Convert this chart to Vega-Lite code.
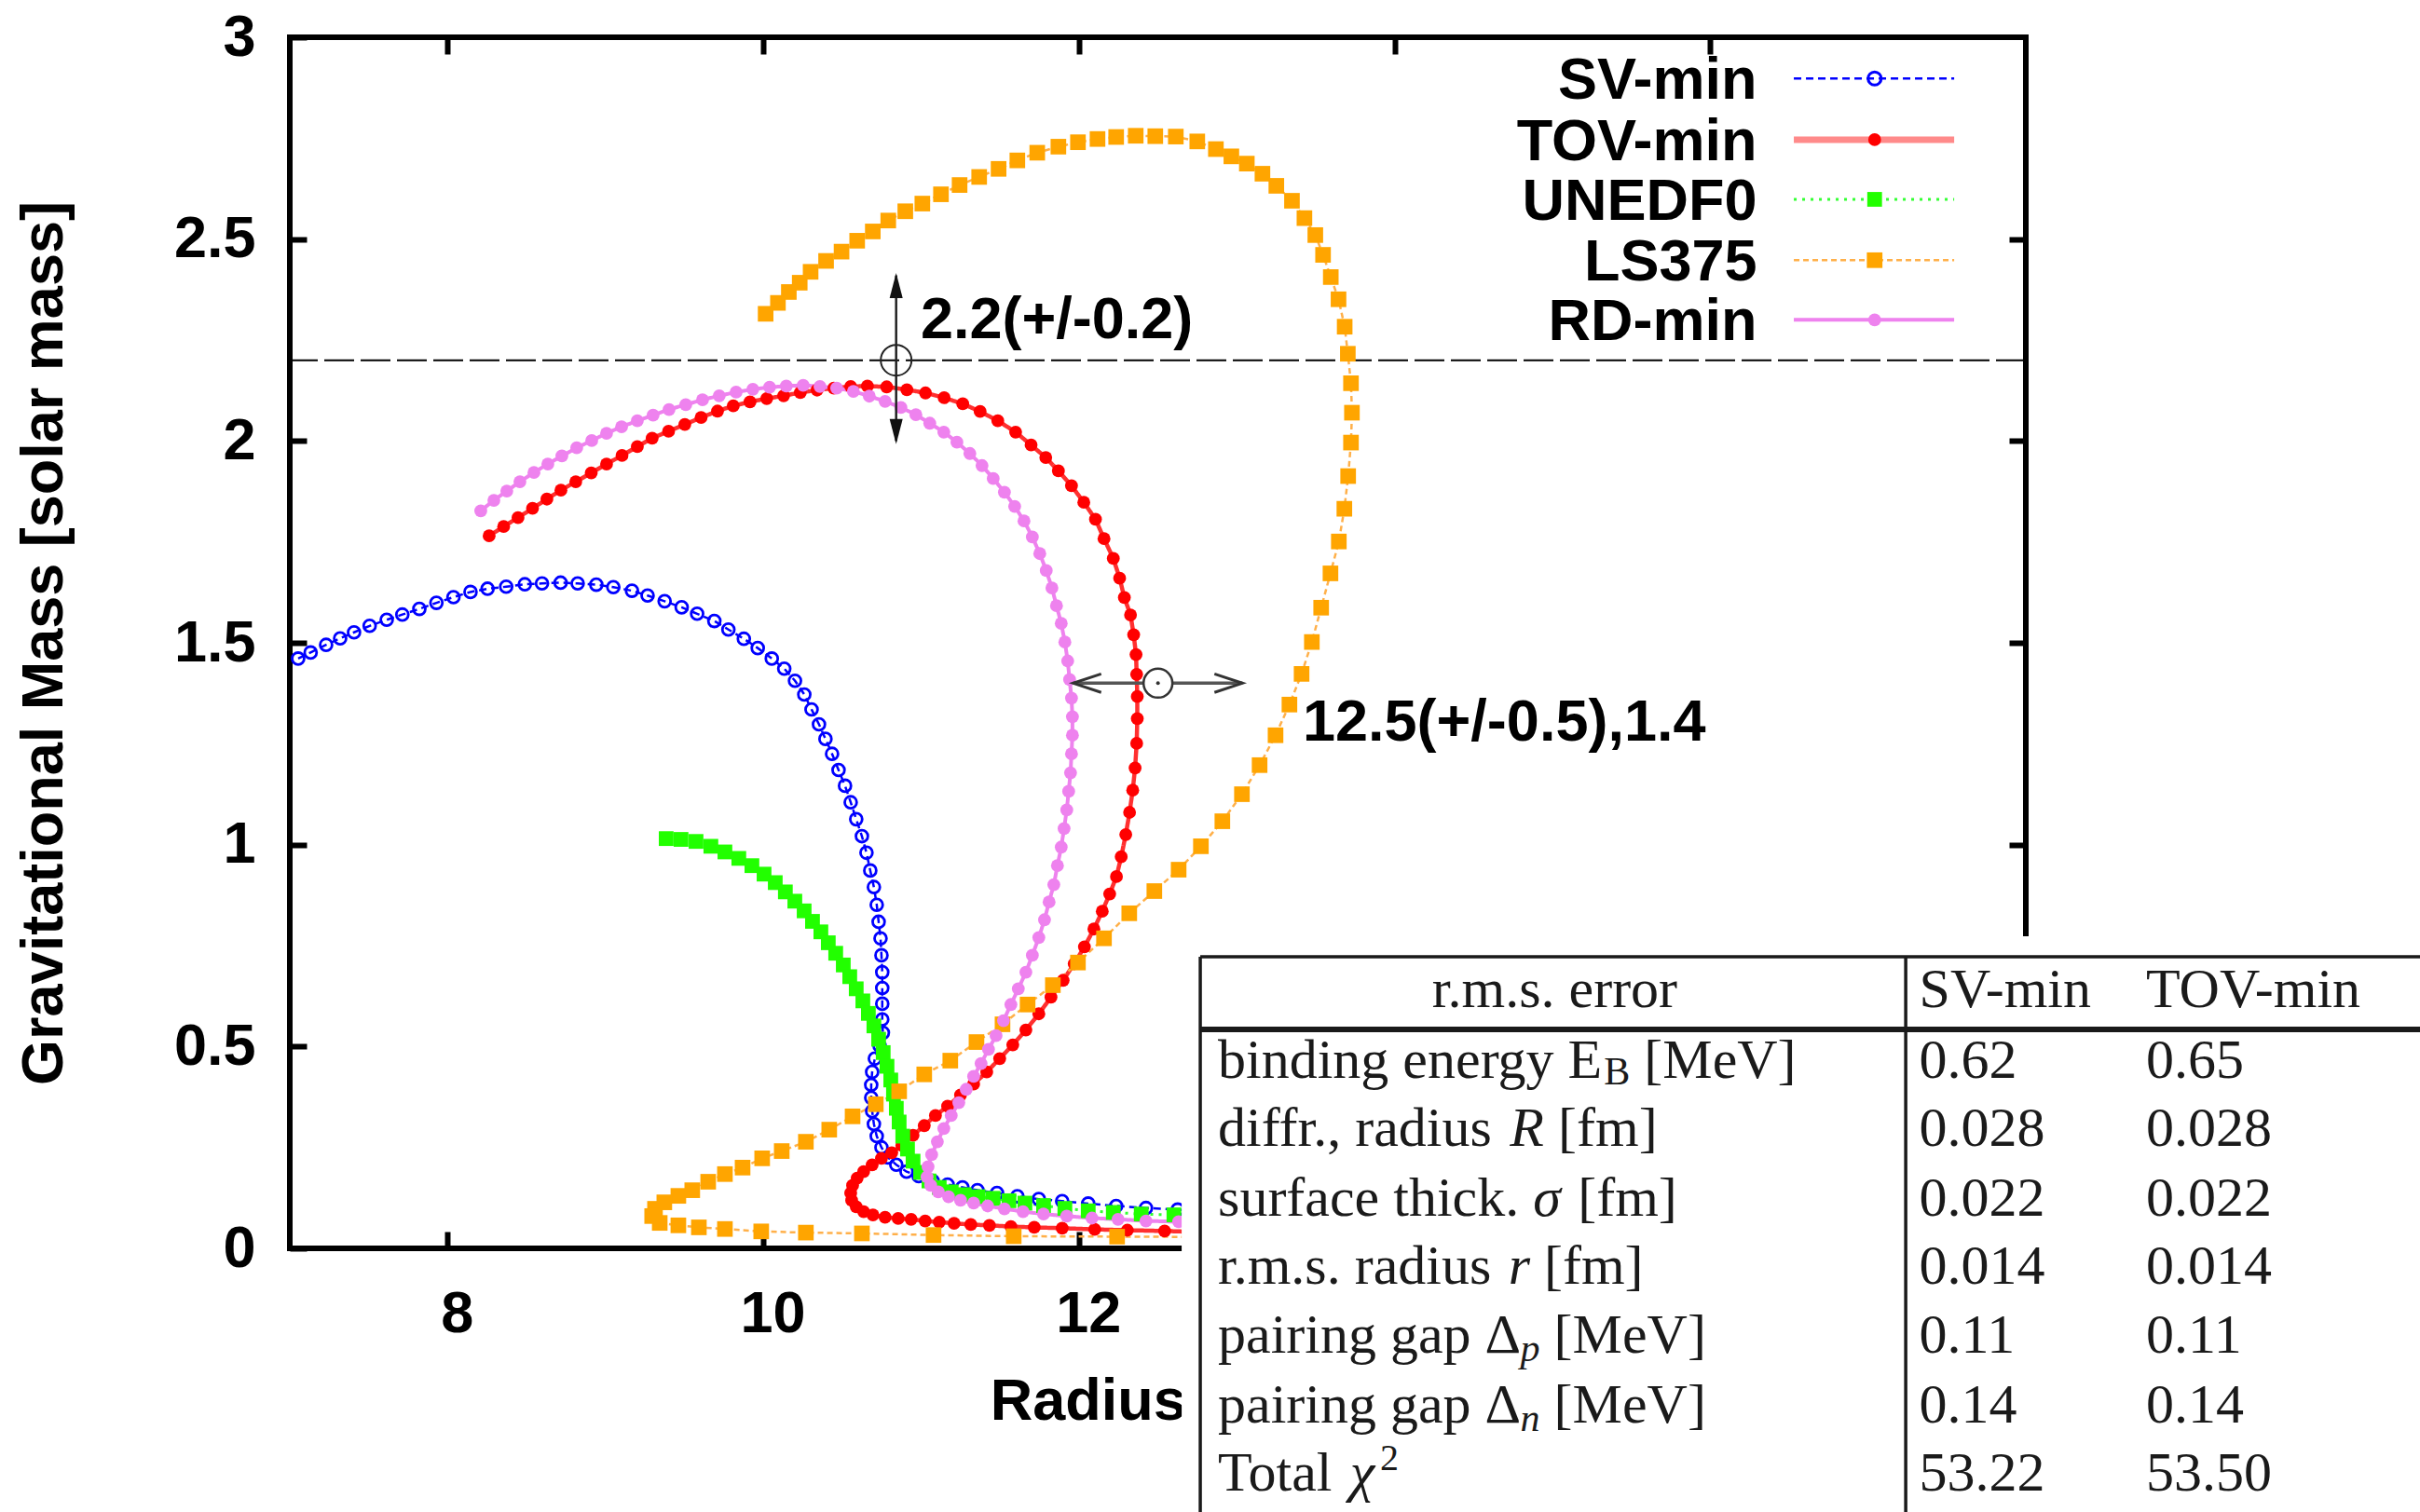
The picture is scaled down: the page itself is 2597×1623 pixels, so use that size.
{
  "$schema": "https://vega.github.io/schema/vega-lite/v6.json",
  "width": 1863,
  "height": 1300,
  "autosize": {"type": "none"},
  "padding": {"left": 311, "top": 40, "right": 423, "bottom": 283},
  "background": "white",
  "config": {
    "view": {"stroke": "black", "strokeWidth": 6},
    "font": "Liberation Sans",
    "axis": {
      "grid": false, "domain": false,
      "labelFont": "Liberation Sans", "labelFontSize": 63, "labelFontWeight": "bold", "labelColor": "black",
      "titleFont": "Liberation Sans", "titleFontSize": 63, "titleFontWeight": "bold", "titleColor": "black",
      "tickColor": "black", "tickWidth": 6, "tickSize": -18
    }
  },
  "resolve": {"axis": {"x": "independent", "y": "independent"}},
  "datasets": {
    "curves": [
      {"s":"SV-min","R":7.053,"M":1.461},{"s":"SV-min","R":7.132,"M":1.476},{"s":"SV-min","R":7.230,"M":1.495},{"s":"SV-min","R":7.319,"M":1.511},{"s":"SV-min","R":7.407,"M":1.526},{"s":"SV-min","R":7.506,"M":1.542},{"s":"SV-min","R":7.614,"M":1.557},{"s":"SV-min","R":7.713,"M":1.570},{"s":"SV-min","R":7.821,"M":1.584},{"s":"SV-min","R":7.929,"M":1.599},{"s":"SV-min","R":8.037,"M":1.613},{"s":"SV-min","R":8.145,"M":1.626},{"s":"SV-min","R":8.253,"M":1.634},{"s":"SV-min","R":8.371,"M":1.639},{"s":"SV-min","R":8.489,"M":1.645},{"s":"SV-min","R":8.598,"M":1.647},{"s":"SV-min","R":8.716,"M":1.649},{"s":"SV-min","R":8.824,"M":1.647},{"s":"SV-min","R":8.942,"M":1.644},{"s":"SV-min","R":9.050,"M":1.638},{"s":"SV-min","R":9.168,"M":1.629},{"s":"SV-min","R":9.267,"M":1.617},{"s":"SV-min","R":9.375,"M":1.603},{"s":"SV-min","R":9.483,"M":1.588},{"s":"SV-min","R":9.581,"M":1.572},{"s":"SV-min","R":9.690,"M":1.554},{"s":"SV-min","R":9.779,"M":1.533},{"s":"SV-min","R":9.877,"M":1.510},{"s":"SV-min","R":9.965,"M":1.487},{"s":"SV-min","R":10.054,"M":1.461},{"s":"SV-min","R":10.133,"M":1.436},{"s":"SV-min","R":10.201,"M":1.406},{"s":"SV-min","R":10.260,"M":1.372},{"s":"SV-min","R":10.306,"M":1.335},{"s":"SV-min","R":10.353,"M":1.298},{"s":"SV-min","R":10.394,"M":1.262},{"s":"SV-min","R":10.436,"M":1.225},{"s":"SV-min","R":10.477,"M":1.185},{"s":"SV-min","R":10.518,"M":1.146},{"s":"SV-min","R":10.554,"M":1.105},{"s":"SV-min","R":10.589,"M":1.063},{"s":"SV-min","R":10.625,"M":1.021},{"s":"SV-min","R":10.654,"M":0.980},{"s":"SV-min","R":10.678,"M":0.936},{"s":"SV-min","R":10.701,"M":0.895},{"s":"SV-min","R":10.719,"M":0.851},{"s":"SV-min","R":10.731,"M":0.809},{"s":"SV-min","R":10.743,"M":0.768},{"s":"SV-min","R":10.749,"M":0.726},{"s":"SV-min","R":10.754,"M":0.684},{"s":"SV-min","R":10.754,"M":0.645},{"s":"SV-min","R":10.754,"M":0.606},{"s":"SV-min","R":10.754,"M":0.567},{"s":"SV-min","R":10.758,"M":0.534},{"s":"SV-min","R":10.737,"M":0.502},{"s":"SV-min","R":10.707,"M":0.470},{"s":"SV-min","R":10.690,"M":0.437},{"s":"SV-min","R":10.684,"M":0.405},{"s":"SV-min","R":10.684,"M":0.373},{"s":"SV-min","R":10.690,"M":0.340},{"s":"SV-min","R":10.701,"M":0.308},{"s":"SV-min","R":10.719,"M":0.278},{"s":"SV-min","R":10.749,"M":0.250},{"s":"SV-min","R":10.790,"M":0.225},{"s":"SV-min","R":10.843,"M":0.207},{"s":"SV-min","R":10.908,"M":0.190},{"s":"SV-min","R":10.985,"M":0.179},{"s":"SV-min","R":11.073,"M":0.167},{"s":"SV-min","R":11.168,"M":0.158},{"s":"SV-min","R":11.262,"M":0.151},{"s":"SV-min","R":11.357,"M":0.144},{"s":"SV-min","R":11.481,"M":0.137},{"s":"SV-min","R":11.610,"M":0.129},{"s":"SV-min","R":11.746,"M":0.122},{"s":"SV-min","R":11.894,"M":0.117},{"s":"SV-min","R":12.059,"M":0.111},{"s":"SV-min","R":12.236,"M":0.105},{"s":"SV-min","R":12.425,"M":0.100},{"s":"SV-min","R":12.626,"M":0.096},{"s":"SV-min","R":12.838,"M":0.091},{"s":"SV-min","R":13.074,"M":0.087},{"s":"SV-min","R":13.340,"M":0.082},{"s":"SV-min","R":13.635,"M":0.077},
      {"s":"TOV-min","R":8.263,"M":1.765},{"s":"TOV-min","R":8.355,"M":1.788},{"s":"TOV-min","R":8.446,"M":1.810},{"s":"TOV-min","R":8.538,"M":1.833},{"s":"TOV-min","R":8.629,"M":1.856},{"s":"TOV-min","R":8.718,"M":1.878},{"s":"TOV-min","R":8.812,"M":1.899},{"s":"TOV-min","R":8.910,"M":1.921},{"s":"TOV-min","R":9.007,"M":1.943},{"s":"TOV-min","R":9.105,"M":1.964},{"s":"TOV-min","R":9.202,"M":1.986},{"s":"TOV-min","R":9.296,"M":2.007},{"s":"TOV-min","R":9.400,"M":2.024},{"s":"TOV-min","R":9.503,"M":2.041},{"s":"TOV-min","R":9.606,"M":2.058},{"s":"TOV-min","R":9.710,"M":2.074},{"s":"TOV-min","R":9.810,"M":2.087},{"s":"TOV-min","R":9.916,"M":2.097},{"s":"TOV-min","R":10.022,"M":2.105},{"s":"TOV-min","R":10.129,"M":2.112},{"s":"TOV-min","R":10.235,"M":2.120},{"s":"TOV-min","R":10.341,"M":2.126},{"s":"TOV-min","R":10.447,"M":2.131},{"s":"TOV-min","R":10.554,"M":2.135},{"s":"TOV-min","R":10.660,"M":2.136},{"s":"TOV-min","R":10.782,"M":2.134},{"s":"TOV-min","R":10.910,"M":2.127},{"s":"TOV-min","R":11.028,"M":2.119},{"s":"TOV-min","R":11.146,"M":2.107},{"s":"TOV-min","R":11.264,"M":2.092},{"s":"TOV-min","R":11.374,"M":2.073},{"s":"TOV-min","R":11.486,"M":2.050},{"s":"TOV-min","R":11.599,"M":2.022},{"s":"TOV-min","R":11.697,"M":1.990},{"s":"TOV-min","R":11.790,"M":1.959},{"s":"TOV-min","R":11.870,"M":1.926},{"s":"TOV-min","R":11.953,"M":1.889},{"s":"TOV-min","R":12.031,"M":1.848},{"s":"TOV-min","R":12.105,"M":1.806},{"s":"TOV-min","R":12.159,"M":1.758},{"s":"TOV-min","R":12.218,"M":1.709},{"s":"TOV-min","R":12.258,"M":1.660},{"s":"TOV-min","R":12.288,"M":1.612},{"s":"TOV-min","R":12.327,"M":1.569},{"s":"TOV-min","R":12.347,"M":1.520},{"s":"TOV-min","R":12.362,"M":1.471},{"s":"TOV-min","R":12.366,"M":1.422},{"s":"TOV-min","R":12.370,"M":1.367},{"s":"TOV-min","R":12.370,"M":1.312},{"s":"TOV-min","R":12.366,"M":1.251},{"s":"TOV-min","R":12.356,"M":1.190},{"s":"TOV-min","R":12.341,"M":1.135},{"s":"TOV-min","R":12.321,"M":1.080},{"s":"TOV-min","R":12.297,"M":1.025},{"s":"TOV-min","R":12.268,"M":0.970},{"s":"TOV-min","R":12.238,"M":0.921},{"s":"TOV-min","R":12.195,"M":0.878},{"s":"TOV-min","R":12.148,"M":0.835},{"s":"TOV-min","R":12.095,"M":0.791},{"s":"TOV-min","R":12.035,"M":0.747},{"s":"TOV-min","R":11.970,"M":0.705},{"s":"TOV-min","R":11.900,"M":0.664},{"s":"TOV-min","R":11.823,"M":0.622},{"s":"TOV-min","R":11.746,"M":0.581},{"s":"TOV-min","R":11.664,"M":0.541},{"s":"TOV-min","R":11.581,"M":0.504},{"s":"TOV-min","R":11.498,"M":0.470},{"s":"TOV-min","R":11.416,"M":0.437},{"s":"TOV-min","R":11.333,"M":0.407},{"s":"TOV-min","R":11.250,"M":0.380},{"s":"TOV-min","R":11.168,"M":0.352},{"s":"TOV-min","R":11.091,"M":0.329},{"s":"TOV-min","R":11.020,"M":0.304},{"s":"TOV-min","R":10.949,"M":0.280},{"s":"TOV-min","R":10.878,"M":0.255},{"s":"TOV-min","R":10.814,"M":0.237},{"s":"TOV-min","R":10.749,"M":0.223},{"s":"TOV-min","R":10.690,"M":0.207},{"s":"TOV-min","R":10.636,"M":0.190},{"s":"TOV-min","R":10.595,"M":0.174},{"s":"TOV-min","R":10.566,"M":0.156},{"s":"TOV-min","R":10.554,"M":0.137},{"s":"TOV-min","R":10.560,"M":0.119},{"s":"TOV-min","R":10.589,"M":0.103},{"s":"TOV-min","R":10.636,"M":0.091},{"s":"TOV-min","R":10.695,"M":0.083},{"s":"TOV-min","R":10.772,"M":0.077},{"s":"TOV-min","R":10.855,"M":0.074},{"s":"TOV-min","R":10.937,"M":0.072},{"s":"TOV-min","R":11.026,"M":0.068},{"s":"TOV-min","R":11.115,"M":0.065},{"s":"TOV-min","R":11.209,"M":0.062},{"s":"TOV-min","R":11.315,"M":0.059},{"s":"TOV-min","R":11.433,"M":0.057},{"s":"TOV-min","R":11.569,"M":0.054},{"s":"TOV-min","R":11.717,"M":0.052},{"s":"TOV-min","R":11.894,"M":0.050},{"s":"TOV-min","R":12.100,"M":0.047},{"s":"TOV-min","R":12.307,"M":0.045},{"s":"TOV-min","R":12.543,"M":0.043},{"s":"TOV-min","R":12.809,"M":0.040},{"s":"TOV-min","R":13.104,"M":0.038},{"s":"TOV-min","R":13.429,"M":0.036},
      {"s":"UNEDF0","R":9.385,"M":1.015},{"s":"UNEDF0","R":9.479,"M":1.013},{"s":"UNEDF0","R":9.574,"M":1.008},{"s":"UNEDF0","R":9.668,"M":0.996},{"s":"UNEDF0","R":9.757,"M":0.982},{"s":"UNEDF0","R":9.845,"M":0.966},{"s":"UNEDF0","R":9.928,"M":0.948},{"s":"UNEDF0","R":10.005,"M":0.927},{"s":"UNEDF0","R":10.076,"M":0.906},{"s":"UNEDF0","R":10.140,"M":0.883},{"s":"UNEDF0","R":10.200,"M":0.860},{"s":"UNEDF0","R":10.259,"M":0.836},{"s":"UNEDF0","R":10.312,"M":0.810},{"s":"UNEDF0","R":10.365,"M":0.784},{"s":"UNEDF0","R":10.412,"M":0.757},{"s":"UNEDF0","R":10.459,"M":0.731},{"s":"UNEDF0","R":10.507,"M":0.702},{"s":"UNEDF0","R":10.548,"M":0.673},{"s":"UNEDF0","R":10.589,"M":0.643},{"s":"UNEDF0","R":10.631,"M":0.613},{"s":"UNEDF0","R":10.666,"M":0.582},{"s":"UNEDF0","R":10.701,"M":0.551},{"s":"UNEDF0","R":10.731,"M":0.518},{"s":"UNEDF0","R":10.760,"M":0.485},{"s":"UNEDF0","R":10.784,"M":0.451},{"s":"UNEDF0","R":10.808,"M":0.417},{"s":"UNEDF0","R":10.825,"M":0.382},{"s":"UNEDF0","R":10.843,"M":0.347},{"s":"UNEDF0","R":10.861,"M":0.313},{"s":"UNEDF0","R":10.884,"M":0.278},{"s":"UNEDF0","R":10.914,"M":0.246},{"s":"UNEDF0","R":10.949,"M":0.216},{"s":"UNEDF0","R":10.997,"M":0.188},{"s":"UNEDF0","R":11.050,"M":0.167},{"s":"UNEDF0","R":11.115,"M":0.151},{"s":"UNEDF0","R":11.191,"M":0.140},{"s":"UNEDF0","R":11.274,"M":0.133},{"s":"UNEDF0","R":11.362,"M":0.128},{"s":"UNEDF0","R":11.457,"M":0.124},{"s":"UNEDF0","R":11.557,"M":0.118},{"s":"UNEDF0","R":11.658,"M":0.112},{"s":"UNEDF0","R":11.776,"M":0.106},{"s":"UNEDF0","R":11.911,"M":0.099},{"s":"UNEDF0","R":12.059,"M":0.093},{"s":"UNEDF0","R":12.218,"M":0.089},{"s":"UNEDF0","R":12.395,"M":0.085},{"s":"UNEDF0","R":12.602,"M":0.083},{"s":"UNEDF0","R":12.838,"M":0.081},{"s":"UNEDF0","R":13.104,"M":0.078},{"s":"UNEDF0","R":13.429,"M":0.076},
      {"s":"LS375","R":10.015,"M":2.315},{"s":"LS375","R":10.093,"M":2.342},{"s":"LS375","R":10.162,"M":2.369},{"s":"LS375","R":10.231,"M":2.392},{"s":"LS375","R":10.300,"M":2.419},{"s":"LS375","R":10.398,"M":2.446},{"s":"LS375","R":10.496,"M":2.469},{"s":"LS375","R":10.595,"M":2.496},{"s":"LS375","R":10.694,"M":2.519},{"s":"LS375","R":10.792,"M":2.546},{"s":"LS375","R":10.900,"M":2.569},{"s":"LS375","R":11.008,"M":2.588},{"s":"LS375","R":11.126,"M":2.611},{"s":"LS375","R":11.244,"M":2.634},{"s":"LS375","R":11.368,"M":2.654},{"s":"LS375","R":11.491,"M":2.674},{"s":"LS375","R":11.610,"M":2.695},{"s":"LS375","R":11.736,"M":2.714},{"s":"LS375","R":11.870,"M":2.729},{"s":"LS375","R":11.994,"M":2.740},{"s":"LS375","R":12.118,"M":2.748},{"s":"LS375","R":12.236,"M":2.753},{"s":"LS375","R":12.360,"M":2.756},{"s":"LS375","R":12.484,"M":2.755},{"s":"LS375","R":12.614,"M":2.754},{"s":"LS375","R":12.750,"M":2.742},{"s":"LS375","R":12.868,"M":2.723},{"s":"LS375","R":12.966,"M":2.705},{"s":"LS375","R":13.064,"M":2.687},{"s":"LS375","R":13.163,"M":2.662},{"s":"LS375","R":13.251,"M":2.632},{"s":"LS375","R":13.350,"M":2.595},{"s":"LS375","R":13.429,"M":2.552},{"s":"LS375","R":13.498,"M":2.510},{"s":"LS375","R":13.547,"M":2.461},{"s":"LS375","R":13.596,"M":2.406},{"s":"LS375","R":13.645,"M":2.351},{"s":"LS375","R":13.684,"M":2.283},{"s":"LS375","R":13.704,"M":2.216},{"s":"LS375","R":13.724,"M":2.143},{"s":"LS375","R":13.730,"M":2.070},{"s":"LS375","R":13.724,"M":1.996},{"s":"LS375","R":13.706,"M":1.913},{"s":"LS375","R":13.682,"M":1.832},{"s":"LS375","R":13.647,"M":1.751},{"s":"LS375","R":13.594,"M":1.672},{"s":"LS375","R":13.535,"M":1.587},{"s":"LS375","R":13.476,"M":1.502},{"s":"LS375","R":13.411,"M":1.423},{"s":"LS375","R":13.334,"M":1.347},{"s":"LS375","R":13.246,"M":1.271},{"s":"LS375","R":13.145,"M":1.197},{"s":"LS375","R":13.033,"M":1.125},{"s":"LS375","R":12.909,"M":1.058},{"s":"LS375","R":12.773,"M":0.996},{"s":"LS375","R":12.632,"M":0.938},{"s":"LS375","R":12.478,"M":0.885},{"s":"LS375","R":12.319,"M":0.830},{"s":"LS375","R":12.159,"M":0.768},{"s":"LS375","R":11.994,"M":0.708},{"s":"LS375","R":11.835,"M":0.652},{"s":"LS375","R":11.675,"M":0.604},{"s":"LS375","R":11.516,"M":0.555},{"s":"LS375","R":11.351,"M":0.511},{"s":"LS375","R":11.185,"M":0.465},{"s":"LS375","R":11.020,"M":0.431},{"s":"LS375","R":10.861,"M":0.389},{"s":"LS375","R":10.713,"M":0.357},{"s":"LS375","R":10.566,"M":0.327},{"s":"LS375","R":10.418,"M":0.294},{"s":"LS375","R":10.270,"M":0.264},{"s":"LS375","R":10.117,"M":0.241},{"s":"LS375","R":9.993,"M":0.223},{"s":"LS375","R":9.869,"M":0.200},{"s":"LS375","R":9.757,"M":0.184},{"s":"LS375","R":9.651,"M":0.165},{"s":"LS375","R":9.550,"M":0.144},{"s":"LS375","R":9.462,"M":0.130},{"s":"LS375","R":9.373,"M":0.114},{"s":"LS375","R":9.314,"M":0.098},{"s":"LS375","R":9.296,"M":0.080},{"s":"LS375","R":9.344,"M":0.063},{"s":"LS375","R":9.462,"M":0.057},{"s":"LS375","R":9.592,"M":0.052},{"s":"LS375","R":9.757,"M":0.048},{"s":"LS375","R":9.987,"M":0.042},{"s":"LS375","R":10.270,"M":0.039},{"s":"LS375","R":10.625,"M":0.037},{"s":"LS375","R":11.079,"M":0.033},{"s":"LS375","R":11.587,"M":0.030},{"s":"LS375","R":12.242,"M":0.029},{"s":"LS375","R":13.015,"M":0.028},{"s":"LS375","R":13.901,"M":0.027},
      {"s":"RD-min","R":8.210,"M":1.827},{"s":"RD-min","R":8.293,"M":1.853},{"s":"RD-min","R":8.375,"M":1.876},{"s":"RD-min","R":8.458,"M":1.899},{"s":"RD-min","R":8.547,"M":1.922},{"s":"RD-min","R":8.635,"M":1.943},{"s":"RD-min","R":8.724,"M":1.963},{"s":"RD-min","R":8.818,"M":1.983},{"s":"RD-min","R":8.913,"M":2.001},{"s":"RD-min","R":9.007,"M":2.019},{"s":"RD-min","R":9.102,"M":2.035},{"s":"RD-min","R":9.202,"M":2.050},{"s":"RD-min","R":9.302,"M":2.064},{"s":"RD-min","R":9.403,"M":2.078},{"s":"RD-min","R":9.509,"M":2.090},{"s":"RD-min","R":9.615,"M":2.102},{"s":"RD-min","R":9.721,"M":2.112},{"s":"RD-min","R":9.828,"M":2.121},{"s":"RD-min","R":9.934,"M":2.128},{"s":"RD-min","R":10.040,"M":2.133},{"s":"RD-min","R":10.146,"M":2.136},{"s":"RD-min","R":10.253,"M":2.138},{"s":"RD-min","R":10.359,"M":2.135},{"s":"RD-min","R":10.465,"M":2.131},{"s":"RD-min","R":10.571,"M":2.123},{"s":"RD-min","R":10.672,"M":2.111},{"s":"RD-min","R":10.772,"M":2.098},{"s":"RD-min","R":10.872,"M":2.083},{"s":"RD-min","R":10.967,"M":2.065},{"s":"RD-min","R":11.055,"M":2.044},{"s":"RD-min","R":11.144,"M":2.022},{"s":"RD-min","R":11.227,"M":1.997},{"s":"RD-min","R":11.309,"M":1.969},{"s":"RD-min","R":11.386,"M":1.939},{"s":"RD-min","R":11.457,"M":1.907},{"s":"RD-min","R":11.528,"M":1.873},{"s":"RD-min","R":11.593,"M":1.838},{"s":"RD-min","R":11.652,"M":1.802},{"s":"RD-min","R":11.705,"M":1.762},{"s":"RD-min","R":11.752,"M":1.721},{"s":"RD-min","R":11.793,"M":1.679},{"s":"RD-min","R":11.829,"M":1.636},{"s":"RD-min","R":11.858,"M":1.592},{"s":"RD-min","R":11.888,"M":1.548},{"s":"RD-min","R":11.911,"M":1.502},{"s":"RD-min","R":11.929,"M":1.455},{"s":"RD-min","R":11.941,"M":1.409},{"s":"RD-min","R":11.953,"M":1.363},{"s":"RD-min","R":11.959,"M":1.317},{"s":"RD-min","R":11.959,"M":1.271},{"s":"RD-min","R":11.953,"M":1.225},{"s":"RD-min","R":11.947,"M":1.178},{"s":"RD-min","R":11.935,"M":1.132},{"s":"RD-min","R":11.923,"M":1.086},{"s":"RD-min","R":11.906,"M":1.040},{"s":"RD-min","R":11.888,"M":0.994},{"s":"RD-min","R":11.864,"M":0.948},{"s":"RD-min","R":11.841,"M":0.901},{"s":"RD-min","R":11.811,"M":0.858},{"s":"RD-min","R":11.782,"M":0.814},{"s":"RD-min","R":11.746,"M":0.770},{"s":"RD-min","R":11.705,"M":0.726},{"s":"RD-min","R":11.664,"M":0.684},{"s":"RD-min","R":11.616,"M":0.643},{"s":"RD-min","R":11.569,"M":0.604},{"s":"RD-min","R":11.522,"M":0.564},{"s":"RD-min","R":11.475,"M":0.527},{"s":"RD-min","R":11.427,"M":0.493},{"s":"RD-min","R":11.380,"M":0.458},{"s":"RD-min","R":11.333,"M":0.426},{"s":"RD-min","R":11.286,"M":0.394},{"s":"RD-min","R":11.239,"M":0.361},{"s":"RD-min","R":11.191,"M":0.329},{"s":"RD-min","R":11.144,"M":0.297},{"s":"RD-min","R":11.103,"M":0.264},{"s":"RD-min","R":11.067,"M":0.232},{"s":"RD-min","R":11.044,"M":0.202},{"s":"RD-min","R":11.038,"M":0.177},{"s":"RD-min","R":11.061,"M":0.156},{"s":"RD-min","R":11.109,"M":0.140},{"s":"RD-min","R":11.174,"M":0.128},{"s":"RD-min","R":11.250,"M":0.119},{"s":"RD-min","R":11.333,"M":0.112},{"s":"RD-min","R":11.422,"M":0.105},{"s":"RD-min","R":11.528,"M":0.098},{"s":"RD-min","R":11.646,"M":0.091},{"s":"RD-min","R":11.776,"M":0.085},{"s":"RD-min","R":11.923,"M":0.080},{"s":"RD-min","R":12.083,"M":0.075},{"s":"RD-min","R":12.248,"M":0.072},{"s":"RD-min","R":12.425,"M":0.068},{"s":"RD-min","R":12.632,"M":0.066},{"s":"RD-min","R":12.868,"M":0.063},{"s":"RD-min","R":13.133,"M":0.061},{"s":"RD-min","R":13.429,"M":0.059}
    ],
    "legend": [
      {"s":"SV-min","ly":2.8978},{"s":"TOV-min","ly":2.7462},{"s":"UNEDF0","ly":2.5985},{"s":"LS375","ly":2.4478},{"s":"RD-min","ly":2.3001}
    ],
    "tableRules": [
      {"r1":12.769,"r2":21.5,"m1":0.7223,"m2":0.7223},
      {"r1":12.769,"r2":12.769,"m1":0.7223,"m2":-0.8},
      {"r1":17.239,"r2":17.239,"m1":0.7223,"m2":-0.8}
    ],
    "tabRoman": [
      {"t":"SV-min","R":17.324,"M":0.5982},{"t":"TOV-min","R":18.762,"M":0.5982},
      {"t":"binding energy E","R":12.881,"M":0.4212},{"t":"[MeV]","R":15.581,"M":0.4212},{"t":"0.62","R":17.324,"M":0.4212},{"t":"0.65","R":18.762,"M":0.4212},
      {"t":"diffr., radius","R":12.881,"M":0.2534},{"t":"[fm]","R":15.036,"M":0.2534},{"t":"0.028","R":17.324,"M":0.2534},{"t":"0.028","R":18.762,"M":0.2534},
      {"t":"surface thick.","R":12.881,"M":0.0810},{"t":"[fm]","R":15.161,"M":0.0810},{"t":"0.022","R":17.324,"M":0.0810},{"t":"0.022","R":18.762,"M":0.0810},
      {"t":"r.m.s. radius","R":12.881,"M":-0.0868},{"t":"[fm]","R":14.947,"M":-0.0868},{"t":"0.014","R":17.324,"M":-0.0868},{"t":"0.014","R":18.762,"M":-0.0868},
      {"t":"pairing gap Δ","R":12.881,"M":-0.2589},{"t":"[MeV]","R":15.010,"M":-0.2589},{"t":"0.11","R":17.324,"M":-0.2589},{"t":"0.11","R":18.762,"M":-0.2589},
      {"t":"pairing gap Δ","R":12.881,"M":-0.4315},{"t":"[MeV]","R":15.010,"M":-0.4315},{"t":"0.14","R":17.324,"M":-0.4315},{"t":"0.14","R":18.762,"M":-0.4315},
      {"t":"Total","R":12.881,"M":-0.5991},{"t":"53.22","R":17.324,"M":-0.5991},{"t":"53.50","R":18.762,"M":-0.5991}
    ],
    "tabCenter": [{"t":"r.m.s. error","R":15.015,"M":0.5982}],
    "tabItalic": [
      {"t":"R","R":14.731,"M":0.2534},{"t":"σ","R":14.878,"M":0.0810},{"t":"r","R":14.721,"M":-0.0868},{"t":"χ","R":13.718,"M":-0.5991}
    ],
    "tabSubRoman": [{"t":"B","R":15.327,"M":0.4212}],
    "tabSubItalic": [{"t":"p","R":14.797,"M":-0.2589},{"t":"n","R":14.797,"M":-0.4315}],
    "tabSup": [{"t":"2","R":13.908,"M":-0.5991}]
  },
  "layer": [
    {
      "data": {"values": [{}]},
      "mark": {"type": "rule", "color": "black", "strokeWidth": 2, "strokeDash": [32, 7]},
      "encoding": {"y": {"datum": 2.2, "type": "quantitative", "axis": null}}
    },
    {
      "data": {"name": "curves"},
      "mark": {"type": "line"},
      "encoding": {
        "x": {"field": "R", "type": "quantitative", "scale": {"domain": [7, 18], "nice": false, "zero": false},
              "axis": {"orient": "bottom", "values": [8, 10, 12, 14, 16], "format": "~g", "title": "Radius [km]", "labelPadding": 57, "labelOffset": 10, "titlePadding": 31}},
        "y": {"field": "M", "type": "quantitative", "scale": {"domain": [0, 3], "nice": false, "zero": false},
              "axis": {"orient": "left", "values": [0, 0.5, 1, 1.5, 2, 2.5, 3], "format": "~g", "title": "Gravitational Mass [solar mass]", "labelPadding": 55, "titlePadding": 107}},
        "stroke": {"field": "s", "type": "nominal", "legend": null,
                   "scale": {"domain": ["SV-min","TOV-min","UNEDF0","LS375","RD-min"], "range": ["#0000ff","#ff3030","#33ff33","#ffb04a","#ee82ee"]}},
        "strokeDash": {"field": "s", "type": "nominal", "legend": null,
                   "scale": {"domain": ["SV-min","TOV-min","UNEDF0","LS375","RD-min"], "range": [[8,5],[1,0],[3,6],[6,4],[1,0]]}},
        "strokeWidth": {"field": "s", "type": "nominal", "legend": null,
                   "scale": {"type": "ordinal", "domain": ["SV-min","TOV-min","UNEDF0","LS375","RD-min"], "range": [2.5, 4.5, 3, 2.5, 4]}},
        "order": {"value": null}
      }
    },
    {
      "data": {"name": "curves"},
      "transform": [{"filter": "datum.s === 'SV-min'"}],
      "mark": {"type": "point", "shape": "circle", "filled": false, "color": "#0000ff", "strokeWidth": 2.8, "size": 165, "opacity": 1},
      "encoding": {
        "x": {"field": "R", "type": "quantitative", "axis": null},
        "y": {"field": "M", "type": "quantitative", "axis": null}
      }
    },
    {
      "data": {"name": "curves"},
      "transform": [{"filter": "datum.s !== 'SV-min'"}],
      "mark": {"type": "point", "filled": true, "opacity": 1, "strokeWidth": 0},
      "encoding": {
        "x": {"field": "R", "type": "quantitative", "axis": {"orient": "top", "values": [8, 10, 12, 14, 16], "labels": false, "title": null}},
        "y": {"field": "M", "type": "quantitative", "axis": {"orient": "right", "values": [0.5, 1, 1.5, 2, 2.5], "labels": false, "title": null}},
        "color": {"field": "s", "type": "nominal", "legend": null,
                  "scale": {"domain": ["SV-min","TOV-min","UNEDF0","LS375","RD-min"], "range": ["#0000ff","#ff0000","#22ff00","#ffa500","#ee82ee"]}},
        "shape": {"field": "s", "type": "nominal", "legend": null,
                  "scale": {"domain": ["SV-min","TOV-min","UNEDF0","LS375","RD-min"], "range": ["circle","circle","square","square","circle"]}},
        "size": {"field": "s", "type": "nominal", "legend": null,
                  "scale": {"type": "ordinal", "domain": ["SV-min","TOV-min","UNEDF0","LS375","RD-min"], "range": [165, 190, 250, 280, 190]}}
      }
    },
    {
      "data": {"values": [{}]},
      "mark": {"type": "rule", "color": "#222222", "strokeWidth": 2.5},
      "encoding": {
        "x": {"datum": 10.842, "type": "quantitative", "axis": null},
        "y": {"datum": 2.0, "type": "quantitative", "axis": null},
        "y2": {"datum": 2.41}
      }
    },
    {
      "data": {"values": [{}]},
      "mark": {"type": "point", "shape": "M0,0 L0.26,1 L-0.26,1 Z", "filled": true, "color": "#111111", "size": 2916, "opacity": 1},
      "encoding": {
        "x": {"datum": 10.842, "type": "quantitative", "axis": null},
        "y": {"datum": 2.416, "type": "quantitative", "axis": null}
      }
    },
    {
      "data": {"values": [{}]},
      "mark": {"type": "point", "shape": "M0,0 L0.26,-1 L-0.26,-1 Z", "filled": true, "color": "#111111", "size": 2916, "opacity": 1},
      "encoding": {
        "x": {"datum": 10.842, "type": "quantitative", "axis": null},
        "y": {"datum": 1.992, "type": "quantitative", "axis": null}
      }
    },
    {
      "data": {"values": [{}]},
      "mark": {"type": "point", "shape": "circle", "filled": false, "color": "#222222", "strokeWidth": 2, "size": 1089, "opacity": 1},
      "encoding": {
        "x": {"datum": 10.842, "type": "quantitative", "axis": null},
        "y": {"datum": 2.2, "type": "quantitative", "axis": null}
      }
    },
    {
      "data": {"values": [{}]},
      "mark": {"type": "rule", "color": "#555555", "strokeWidth": 3.5},
      "encoding": {
        "x": {"datum": 11.964, "type": "quantitative", "axis": null},
        "x2": {"datum": 13.036},
        "y": {"datum": 1.4, "type": "quantitative", "axis": null}
      }
    },
    {
      "data": {"values": [{}]},
      "mark": {"type": "point", "shape": "M1,-0.33 L0,0 L1,0.33", "filled": false, "color": "#333333", "strokeWidth": 3, "size": 3600, "opacity": 1},
      "encoding": {
        "x": {"datum": 11.964, "type": "quantitative", "axis": null},
        "y": {"datum": 1.4, "type": "quantitative", "axis": null}
      }
    },
    {
      "data": {"values": [{}]},
      "mark": {"type": "point", "shape": "M-1,-0.33 L0,0 L-1,0.33", "filled": false, "color": "#333333", "strokeWidth": 3, "size": 3600, "opacity": 1},
      "encoding": {
        "x": {"datum": 13.036, "type": "quantitative", "axis": null},
        "y": {"datum": 1.4, "type": "quantitative", "axis": null}
      }
    },
    {
      "data": {"values": [{}]},
      "mark": {"type": "point", "shape": "circle", "filled": true, "fill": "white", "stroke": "#333333", "strokeWidth": 2.5, "size": 960, "opacity": 1},
      "encoding": {
        "x": {"datum": 12.501, "type": "quantitative", "axis": null},
        "y": {"datum": 1.4, "type": "quantitative", "axis": null}
      }
    },
    {
      "data": {"values": [{}]},
      "mark": {"type": "point", "shape": "circle", "filled": true, "color": "#333333", "size": 16, "opacity": 1},
      "encoding": {
        "x": {"datum": 12.501, "type": "quantitative", "axis": null},
        "y": {"datum": 1.4, "type": "quantitative", "axis": null}
      }
    },
    {
      "data": {"values": [{"t": "2.2(+/-0.2)", "R": 10.997, "M": 2.2546}, {"t": "12.5(+/-0.5),1.4", "R": 13.418, "M": 1.2577}]},
      "mark": {"type": "text", "align": "left", "baseline": "alphabetic", "font": "Liberation Sans", "fontSize": 63, "fontWeight": "bold", "color": "black"},
      "encoding": {
        "x": {"field": "R", "type": "quantitative", "axis": null},
        "y": {"field": "M", "type": "quantitative", "axis": null},
        "text": {"field": "t"}
      }
    },
    {
      "data": {"name": "legend"},
      "mark": {"type": "text", "align": "right", "baseline": "middle", "dy": 3, "font": "Liberation Sans", "fontSize": 63, "fontWeight": "bold", "color": "black"},
      "encoding": {
        "x": {"datum": 16.297, "type": "quantitative", "axis": null},
        "y": {"field": "ly", "type": "quantitative", "axis": null},
        "text": {"field": "s"}
      }
    },
    {
      "data": {"name": "legend"},
      "transform": [{"filter": "datum.s !== 'TOV-min'"}],
      "mark": {"type": "rule"},
      "encoding": {
        "x": {"datum": 16.530, "type": "quantitative", "axis": null},
        "x2": {"datum": 17.546},
        "y": {"field": "ly", "type": "quantitative", "axis": null},
        "stroke": {"field": "s", "type": "nominal", "legend": null,
                   "scale": {"domain": ["SV-min","TOV-min","UNEDF0","LS375","RD-min"], "range": ["#0000ff","#ff3030","#33ff33","#ffb04a","#ee82ee"]}},
        "strokeDash": {"field": "s", "type": "nominal", "legend": null,
                   "scale": {"domain": ["SV-min","TOV-min","UNEDF0","LS375","RD-min"], "range": [[8,5],[1,0],[3,6],[6,4],[1,0]]}},
        "strokeWidth": {"field": "s", "type": "nominal", "legend": null,
                   "scale": {"type": "ordinal", "domain": ["SV-min","TOV-min","UNEDF0","LS375","RD-min"], "range": [2.5, 4.5, 3, 2.5, 4]}}
      }
    },
    {
      "data": {"name": "legend"},
      "transform": [{"filter": "datum.s === 'TOV-min'"}],
      "mark": {"type": "rule", "color": "#ff8a8a", "strokeWidth": 7},
      "encoding": {
        "x": {"datum": 16.530, "type": "quantitative", "axis": null},
        "x2": {"datum": 17.546},
        "y": {"field": "ly", "type": "quantitative", "axis": null}
      }
    },
    {
      "data": {"name": "legend"},
      "transform": [{"filter": "datum.s === 'SV-min'"}],
      "mark": {"type": "point", "shape": "circle", "filled": false, "color": "#0000ff", "strokeWidth": 3, "size": 200, "opacity": 1},
      "encoding": {
        "x": {"datum": 17.042, "type": "quantitative", "axis": null},
        "y": {"field": "ly", "type": "quantitative", "axis": null}
      }
    },
    {
      "data": {"name": "legend"},
      "transform": [{"filter": "datum.s !== 'SV-min'"}],
      "mark": {"type": "point", "filled": true, "opacity": 1, "strokeWidth": 0},
      "encoding": {
        "x": {"datum": 17.042, "type": "quantitative", "axis": null},
        "y": {"field": "ly", "type": "quantitative", "axis": null},
        "color": {"field": "s", "type": "nominal", "legend": null,
                  "scale": {"domain": ["SV-min","TOV-min","UNEDF0","LS375","RD-min"], "range": ["#0000ff","#ff0000","#22ff00","#ffa500","#ee82ee"]}},
        "shape": {"field": "s", "type": "nominal", "legend": null,
                  "scale": {"domain": ["SV-min","TOV-min","UNEDF0","LS375","RD-min"], "range": ["circle","circle","square","square","circle"]}},
        "size": {"field": "s", "type": "nominal", "legend": null,
                  "scale": {"type": "ordinal", "domain": ["SV-min","TOV-min","UNEDF0","LS375","RD-min"], "range": [165, 190, 250, 280, 190]}}
      }
    },
    {
      "data": {"values": [{}]},
      "mark": {"type": "rect", "fill": "white", "clip": false},
      "encoding": {
        "x": {"datum": 12.651, "type": "quantitative", "axis": null},
        "x2": {"datum": 21.5},
        "y": {"datum": 0.7731, "type": "quantitative", "axis": null},
        "y2": {"datum": -0.8}
      }
    },
    {
      "data": {"name": "tableRules"},
      "mark": {"type": "rule", "color": "#1a1a1a", "strokeWidth": 3.5},
      "encoding": {
        "x": {"field": "r1", "type": "quantitative", "axis": null},
        "x2": {"field": "r2"},
        "y": {"field": "m1", "type": "quantitative", "axis": null},
        "y2": {"field": "m2"}
      }
    },
    {
      "data": {"values": [{}]},
      "mark": {"type": "rule", "color": "#1a1a1a", "strokeWidth": 6},
      "encoding": {
        "x": {"datum": 12.769, "type": "quantitative", "axis": null},
        "x2": {"datum": 21.5},
        "y": {"datum": 0.5423, "type": "quantitative", "axis": null}
      }
    },
    {
      "data": {"name": "tabRoman"},
      "mark": {"type": "text", "align": "left", "baseline": "alphabetic", "font": "Liberation Serif", "fontSize": 60, "color": "#1a1a1a"},
      "encoding": {
        "x": {"field": "R", "type": "quantitative", "axis": null},
        "y": {"field": "M", "type": "quantitative", "axis": null},
        "text": {"field": "t"}
      }
    },
    {
      "data": {"name": "tabCenter"},
      "mark": {"type": "text", "align": "center", "baseline": "alphabetic", "font": "Liberation Serif", "fontSize": 60, "color": "#1a1a1a"},
      "encoding": {
        "x": {"field": "R", "type": "quantitative", "axis": null},
        "y": {"field": "M", "type": "quantitative", "axis": null},
        "text": {"field": "t"}
      }
    },
    {
      "data": {"name": "tabItalic"},
      "mark": {"type": "text", "align": "left", "baseline": "alphabetic", "font": "Liberation Serif", "fontStyle": "italic", "fontSize": 60, "color": "#1a1a1a"},
      "encoding": {
        "x": {"field": "R", "type": "quantitative", "axis": null},
        "y": {"field": "M", "type": "quantitative", "axis": null},
        "text": {"field": "t"}
      }
    },
    {
      "data": {"name": "tabSubRoman"},
      "mark": {"type": "text", "align": "left", "baseline": "alphabetic", "dy": 7, "font": "Liberation Serif", "fontSize": 42, "color": "#1a1a1a"},
      "encoding": {
        "x": {"field": "R", "type": "quantitative", "axis": null},
        "y": {"field": "M", "type": "quantitative", "axis": null},
        "text": {"field": "t"}
      }
    },
    {
      "data": {"name": "tabSubItalic"},
      "mark": {"type": "text", "align": "left", "baseline": "alphabetic", "dy": 9, "font": "Liberation Serif", "fontStyle": "italic", "fontSize": 42, "color": "#1a1a1a"},
      "encoding": {
        "x": {"field": "R", "type": "quantitative", "axis": null},
        "y": {"field": "M", "type": "quantitative", "axis": null},
        "text": {"field": "t"}
      }
    },
    {
      "data": {"name": "tabSup"},
      "mark": {"type": "text", "align": "left", "baseline": "alphabetic", "dy": -22, "font": "Liberation Serif", "fontSize": 40, "color": "#1a1a1a"},
      "encoding": {
        "x": {"field": "R", "type": "quantitative", "axis": null},
        "y": {"field": "M", "type": "quantitative", "axis": null},
        "text": {"field": "t"}
      }
    }
  ]
}
